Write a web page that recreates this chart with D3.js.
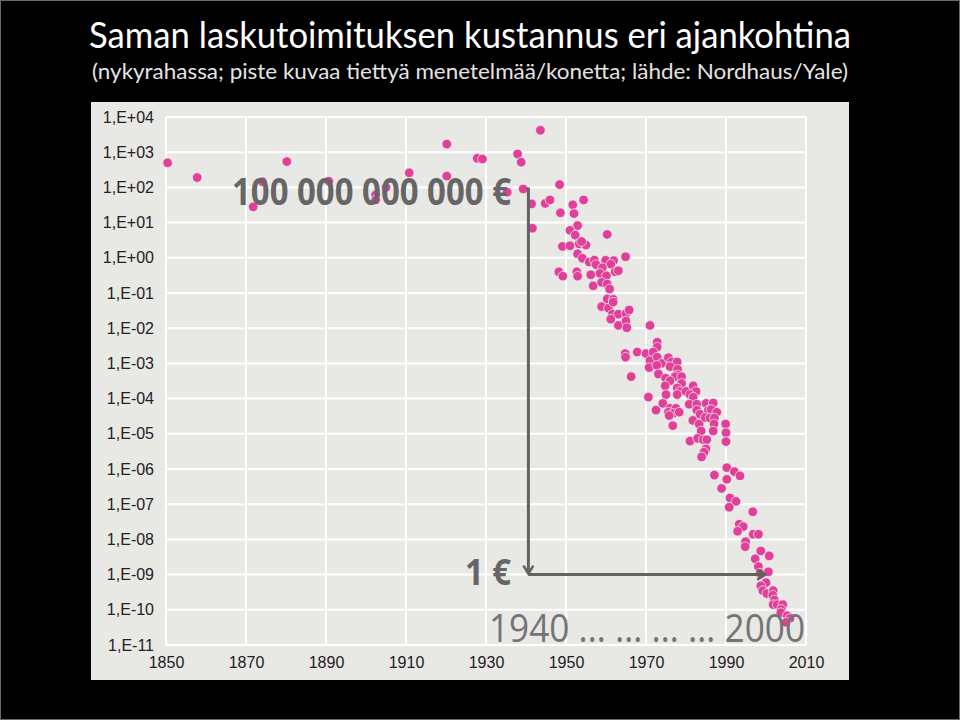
<!DOCTYPE html>
<html>
<head>
<meta charset="utf-8">
<script src="https://cdn.jsdelivr.net/npm/d3@7"></script>
<style>
  html, body { margin: 0; padding: 0; background: #000; }
  svg { display: block; }
</style>
</head>
<body>
<div id="chart-container"></div>
<script>
// cost of one computation (today's money), one dot per machine / method
const years1850 = [1850.4, 1857.8, 1871.8, 1880.2, 1874.1, 1890.7, 1902.4, 1902.4, 1905.0, 1910.8,
  1920.2, 1920.2, 1927.8, 1929.1, 1937.9, 1938.8, 1943.6, 1935.3, 1939.3, 1941.4,
  1941.6, 1944.8, 1946.0, 1948.4, 1951.7, 1952.0, 1954.4, 1948.6, 1952.9, 1951.0,
  1952.3, 1960.3, 1949.1, 1951.0, 1953.3, 1955.0, 1953.9, 1952.9, 1954.1, 1955.8,
  1957.1, 1957.5, 1959.9, 1961.9, 1961.2, 1959.1, 1964.9, 1948.2, 1949.2, 1952.7,
  1952.9, 1956.2, 1958.5, 1960.1, 1962.3, 1963.1, 1956.8, 1958.9, 1960.3, 1960.9,
  1960.3, 1961.8];
const costs1850 = [5.0e2, 1.9e2, 2.8e1, 5.4e2, 1.45e2, 1.5e2, 6.1e1, 4.4e1, 1.0e2, 2.6e2,
  1.7e3, 2.1e2, 6.7e2, 6.4e2, 8.9e2, 5.2e2, 4.2e3, 7.3e1, 9.0e1, 3.4e1,
  6.9, 3.5e1, 4.4e1, 1.2e2, 3.2e1, 1.8e1, 4.4e1, 1.9e1, 8.2, 6.0,
  4.4, 4.6, 2.1, 2.2, 2.5, 2.3, 2.9, 1.3, 0.97, 0.76,
  0.86, 0.64, 0.85, 0.83, 0.66, 0.52, 1.07, 0.40, 0.30, 0.40,
  0.30, 0.33, 0.36, 0.31, 0.40, 0.43, 0.16, 0.20, 0.18, 0.13,
  0.068, 0.066];

const years1958 = [1958.9, 1960.6, 1961.6, 1963.1, 1965.0, 1965.8, 1961.2, 1963.1, 1965.0, 1965.2,
  1971.0, 1972.8, 1972.8, 1964.8, 1964.9, 1967.8, 1970.0, 1971.8, 1971.0, 1972.8,
  1973.9, 1975.6, 1976.4, 1977.8, 1970.8, 1972.7, 1973.1, 1976.0, 1977.9, 1977.9,
  1977.3, 1978.9, 1966.3, 1974.9, 1976.0, 1978.9, 1974.8, 1977.8, 1978.5, 1977.8,
  1980.0, 1981.8, 1982.5, 1981.0, 1981.8, 1970.6, 1975.0, 1974.2, 1972.5, 1976.0,
  1977.5, 1975.6, 1976.8, 1978.3, 1975.8, 1976.7, 1980.8, 1982.7, 1982.7, 1983.5,
  1981.7, 1983.3, 1985.0, 1986.8, 1985.6, 1986.3, 1987.7, 1984.8, 1986.0, 1987.1,
  1987.0, 1983.8, 1986.8, 1989.9, 1990.0, 1990.0, 1981.0, 1982.9, 1984.3, 1985.2,
  1985.0, 1984.5, 1983.9, 1961.8];
const costs1958 = [4.1e-2, 3.7e-2, 2.5e-2, 2.5e-2, 2.6e-2, 3.3e-2, 1.8e-2, 1.2e-2, 1.6e-2, 1.03e-2,
  1.2e-2, 4.0e-3, 2.9e-3, 1.9e-3, 1.5e-3, 2.1e-3, 1.9e-3, 2.1e-3, 1.2e-3, 1.5e-3,
  1.0e-3, 1.45e-3, 1.1e-3, 1.1e-3, 7.6e-4, 8.8e-4, 5.0e-4, 8.1e-4, 6.8e-4, 4.7e-4,
  4.2e-4, 4.2e-4, 4.2e-4, 3.8e-4, 3.2e-4, 2.7e-4, 2.3e-4, 2.0e-4, 1.6e-4, 1.3e-4,
  1.6e-4, 2.3e-4, 1.6e-4, 1.3e-4, 1.1e-4, 1.1e-4, 1.3e-4, 7.3e-5, 4.7e-5, 5.3e-5,
  5.3e-5, 4.1e-5, 3.8e-5, 4.1e-5, 3.3e-5, 1.7e-5, 6.9e-5, 6.9e-5, 4.7e-5, 3.6e-5,
  2.4e-5, 1.9e-5, 7.3e-5, 7.5e-5, 4.7e-5, 4.9e-5, 4.1e-5, 2.9e-5, 2.8e-5, 2.8e-5,
  1.9e-5, 1.2e-5, 1.2e-5, 1.9e-5, 1.07e-5, 6.0e-6, 6.2e-6, 7.4e-6, 6.8e-6, 6.8e-6,
  3.7e-6, 3.0e-6, 2.2e-6, 5.5e-2];

const years1987 = [1990.2, 1987.1, 1992.1, 1993.5, 1990.2, 1988.9, 1991.0, 1992.5, 1990.8, 1996.7,
  1993.3, 1994.3, 1992.9, 1996.8, 1998.1, 1994.9, 1994.8, 1998.7, 2000.8, 1997.3,
  1998.1, 1998.5, 2000.6, 2000.0, 1998.7, 1999.2, 2000.2, 2001.8, 2001.7, 2002.1,
  2001.8, 2002.8, 2004.2, 2003.8, 2003.7, 2005.3, 2006.0, 2005.0];
const costs1987 = [1.09e-6, 6.7e-7, 8.4e-7, 6.4e-7, 5.1e-7, 2.8e-7, 1.5e-7, 1.2e-7, 8.2e-8, 6.1e-8,
  2.7e-8, 2.3e-8, 1.7e-8, 1.4e-8, 1.4e-8, 8.6e-9, 6.2e-9, 4.7e-9, 3.4e-9, 2.8e-9,
  1.7e-9, 1.1e-9, 1.2e-9, 5.9e-10, 4.8e-10, 3.5e-10, 2.9e-10, 3.5e-10, 2.6e-10, 1.9e-10,
  1.4e-10, 1.4e-10, 1.4e-10, 1.03e-10, 8.3e-11, 6.8e-11, 5.7e-11, 4.4e-11];

const xTicks = [1850, 1870, 1890, 1910, 1930, 1950, 1970, 1990, 2010];
const yTicks = [1e4, 1e3, 1e2, 1e1, 1e0, 1e-1, 1e-2, 1e-3, 1e-4, 1e-5, 1e-6, 1e-7, 1e-8, 1e-9, 1e-10, 1e-11];
const yTickLabels = ["1,E+04", "1,E+03", "1,E+02", "1,E+01", "1,E+00", "1,E-01", "1,E-02", "1,E-03",
  "1,E-04", "1,E-05", "1,E-06", "1,E-07", "1,E-08", "1,E-09", "1,E-10", "1,E-11"];

// annotation: 1e2 in 1940 -> 1e-9 in 2000
const arrowYears = [1940.6, 1999.8];
const arrowCosts = [1e2, 1e-9];

const title = "Saman laskutoimituksen kustannus eri ajankohtina";
const subtitle = "(nykyrahassa; piste kuvaa tiettyä menetelmää/konetta; lähde: Nordhaus/Yale)";

const dataset = []
  .concat(years1850.map((d, i) => ({ year: d, cost: costs1850[i] })))
  .concat(years1958.map((d, i) => ({ year: d, cost: costs1958[i] })))
  .concat(years1987.map((d, i) => ({ year: d, cost: costs1987[i] })));

const width = 960;
const height = 720;
const panel = { x: 91, y: 102, w: 758, h: 578 };

const svg = d3
  .select("#chart-container")
  .append("svg")
  .attr("width", width)
  .attr("height", height);

svg.append("rect").attr("width", width).attr("height", height).attr("fill", "#000");
svg.append("rect")
  .attr("x", 0.5).attr("y", 0.5)
  .attr("width", width - 1).attr("height", height - 1)
  .attr("fill", "none").attr("stroke", "#6a6a6a");

// titles
svg.append("text")
  .attr("x", 89).attr("y", 48)
  .attr("textLength", 762).attr("lengthAdjust", "spacingAndGlyphs")
  .style("font-family", "Lato, 'Open Sans', sans-serif")
  .style("font-size", "37px")
  .attr("fill", "#fff")
  .text(title);

svg.append("text")
  .attr("x", 92).attr("y", 79)
  .attr("textLength", 756).attr("lengthAdjust", "spacingAndGlyphs")
  .style("font-family", "Lato, 'Open Sans', sans-serif")
  .style("font-size", "22px")
  .attr("fill", "#e4e4e4")
  .text(subtitle);

// plot panel
svg.append("rect")
  .attr("x", panel.x).attr("y", panel.y)
  .attr("width", panel.w).attr("height", panel.h)
  .attr("fill", "#e8e8e4");

const x = d3.scaleLinear().domain([1850, 2010]).range([166, 806]);
const y = d3.scaleLog().domain([1e-11, 1e4]).range([645, 117]);

// grid
const grid = svg.append("g").attr("stroke", "#fff").attr("stroke-width", 2);
grid.selectAll(".gy").data(yTicks).join("line")
  .attr("x1", x(1850)).attr("x2", x(2010))
  .attr("y1", (d) => y(d)).attr("y2", (d) => y(d));
grid.selectAll(".gx").data(xTicks).join("line")
  .attr("x1", (d) => x(d)).attr("x2", (d) => x(d))
  .attr("y1", y(1e4)).attr("y2", y(1e-11));

// axes
const yAxis = svg.append("g")
  .attr("transform", `translate(${x(1850) - 12},0)`)
  .call(d3.axisLeft(y).tickValues(yTicks).tickSize(0).tickFormat((d, i) => yTickLabels[i]));
const xAxis = svg.append("g")
  .attr("transform", `translate(0,${y(1e-11) + 9})`)
  .call(d3.axisBottom(x).tickValues(xTicks).tickSize(0).tickFormat(d3.format("d")));

yAxis.select(".domain").remove();
xAxis.select(".domain").remove();
yAxis.selectAll("text")
  .attr("x", 0)
  .attr("fill", "#222")
  .style("font-family", "'Liberation Sans', Arial, sans-serif")
  .style("font-size", "16px");
xAxis.selectAll("text")
  .attr("y", 3)
  .attr("fill", "#222")
  .style("font-family", "'Liberation Sans', Arial, sans-serif")
  .style("font-size", "16px");

// dots
svg.append("g")
  .selectAll("circle")
  .data(dataset)
  .join("circle")
  .attr("cx", (d) => x(d.year))
  .attr("cy", (d) => y(d.cost))
  .attr("r", 4.8)
  .attr("fill", "#e0409a")
  .attr("stroke", "#f4f4f0")
  .attr("stroke-width", 0.7);

// arrows
const arrowColor = "#626262";
const defs = svg.append("defs");
defs.append("marker")
  .attr("id", "head")
  .attr("viewBox", "0 0 12 12")
  .attr("refX", 10).attr("refY", 6)
  .attr("markerWidth", 12).attr("markerHeight", 12)
  .attr("markerUnits", "userSpaceOnUse")
  .attr("orient", "auto")
  .append("path")
  .attr("d", "M2,1 L10,6 L2,11")
  .attr("fill", "none")
  .attr("stroke", arrowColor)
  .attr("stroke-width", 2.6);

svg.append("line")
  .attr("x1", x(arrowYears[0])).attr("x2", x(arrowYears[0]))
  .attr("y1", y(arrowCosts[0])).attr("y2", y(arrowCosts[1]) - 1)
  .attr("stroke", arrowColor).attr("stroke-width", 3)
  .attr("marker-end", "url(#head)");
svg.append("line")
  .attr("x1", x(arrowYears[0])).attr("x2", x(arrowYears[1]))
  .attr("y1", y(arrowCosts[1])).attr("y2", y(arrowCosts[1]))
  .attr("stroke", arrowColor).attr("stroke-width", 3)
  .attr("marker-end", "url(#head)");

// annotation text
const note = svg.append("g").style("font-family", "'Open Sans', Lato, sans-serif");
note.append("text")
  .attr("x", 232).attr("y", 205)
  .attr("textLength", 279).attr("lengthAdjust", "spacingAndGlyphs")
  .style("font-size", "38px").style("font-weight", "bold")
  .attr("fill", "#666")
  .text("100 000 000 000 €");
note.append("text")
  .attr("x", 465).attr("y", 585)
  .attr("textLength", 46).attr("lengthAdjust", "spacingAndGlyphs")
  .style("font-size", "36px").style("font-weight", "bold")
  .attr("fill", "#666")
  .text("1 €");
note.append("text")
  .attr("x", 489).attr("y", 642)
  .attr("textLength", 316).attr("lengthAdjust", "spacingAndGlyphs")
  .style("font-size", "38px")
  .attr("fill", "#747474")
  .text("1940 … … … … 2000");
</script>
</body>
</html>
